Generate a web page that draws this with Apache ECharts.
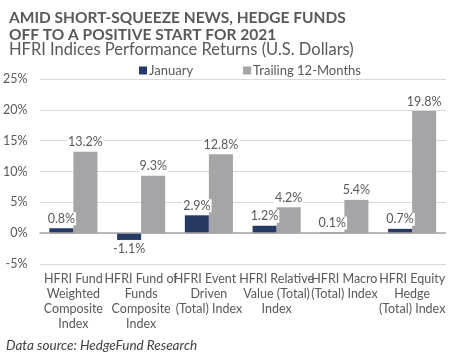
<!DOCTYPE html>
<html>
<head>
<meta charset="utf-8">
<script src="https://cdn.jsdelivr.net/npm/echarts@6/dist/echarts.min.js"></script>
<style>
  html, body { margin: 0; padding: 0; background: #fff; }
  #chart { width: 450px; height: 352px; }
</style>
</head>
<body>
<div id="chart"></div>
<script>
// categories and values
const categories = [
  "HFRI Fund\nWeighted\nComposite\nIndex",
  "HFRI Fund of\nFunds\nComposite\nIndex",
  "HFRI Event -\nDriven\n(Total) Index",
  "HFRI Relative\nValue (Total)\nIndex",
  "HFRI Macro\n(Total) Index",
  "HFRI Equity\nHedge\n(Total) Index"
];
const january = [0.8, -1.1, 2.9, 1.2, 0.1, 0.7];
const trailing12 = [13.2, 9.3, 12.8, 4.2, 5.4, 19.8];
const yTicks = [-5, 25, 5]; // min, max, step

const textGray = "#595959";
const fontFam = "Lato, sans-serif";

const chart = echarts.init(document.getElementById("chart"));

function barLabel() {
  return {
    show: true,
    position: "top",
    distance: 3,
    color: textGray,
    fontSize: 12.5,
    fontFamily: fontFam,
    backgroundColor: "#fff",
    padding: [0, 1],
    formatter: p => p.value.toFixed(1) + "%"
  };
}

let option = {
  animation: false,
  title: [
    {
      text: "AMID SHORT-SQUEEZE NEWS, HEDGE FUNDS\nOFF TO A POSITIVE START FOR 2021",
      left: 4,
      top: 4,
      textStyle: {
        color: textGray,
        fontSize: 15.5,
        fontWeight: "bold",
        fontFamily: fontFam,
        lineHeight: 17
      }
    },
    {
      text: "HFRI Indices Performance Returns (U.S. Dollars)",
      left: 4,
      top: 36,
      textStyle: {
        color: textGray,
        fontSize: 16.5,
        fontWeight: "normal",
        fontFamily: fontFam
      }
    },
    {
      text: "Data source: HedgeFund Research",
      left: 1,
      top: 334,
      textStyle: {
        color: "#404040",
        fontSize: 13.5,
        fontStyle: "italic",
        fontWeight: "normal",
        fontFamily: fontFam
      }
    }
  ],
  legend: {
    top: 59,
    left: 134,
    itemWidth: 8,
    itemHeight: 8,
    itemGap: 50,
    icon: "rect",
    textStyle: { color: textGray, fontSize: 13, fontFamily: fontFam, padding: [0, 0, 0, -3] },
    data: ["January", "Trailing 12-Months"]
  },
  grid: { left: 38, right: 4, top: 79, bottom: 88, containLabel: false },
  xAxis: {
    type: "category",
    data: categories,
    axisLine: { show: false, onZero: false },
    axisTick: { show: false },
    axisLabel: {
      interval: 0,
      color: textGray,
      fontSize: 12.5,
      lineHeight: 15,
      fontFamily: fontFam,
      margin: 7
    }
  },
  yAxis: {
    type: "value",
    min: yTicks[0],
    max: yTicks[1],
    interval: yTicks[2],
    axisLine: { show: false },
    axisTick: { show: false },
    axisLabel: {
      color: textGray,
      fontSize: 12.5,
      fontFamily: fontFam,
      margin: 12,
      formatter: v => v + "%"
    },
    splitLine: { lineStyle: { color: "#d9d9d9", width: 1 } }
  },
  series: [
    {
      name: "January",
      type: "bar",
      barGap: "0%",
      barCategoryGap: "29%",
      itemStyle: { color: "#253a64" },
      label: barLabel(),
      data: january.map(v => v < 0
        ? { value: v, label: { position: "bottom" } }
        : v),
      markLine: {
        silent: true,
        symbol: "none",
        label: { show: false },
        lineStyle: { color: "#a6a6a6", width: 1.5, type: "solid" },
        data: [{ yAxis: 0 }]
      }
    },
    {
      name: "Trailing 12-Months",
      type: "bar",
      barGap: "0%",
      barCategoryGap: "29%",
      itemStyle: { color: "#a5a5a8" },
      label: barLabel(),
      data: trailing12
    }
  ]
};
chart.setOption(option);
</script>
</body>
</html>
